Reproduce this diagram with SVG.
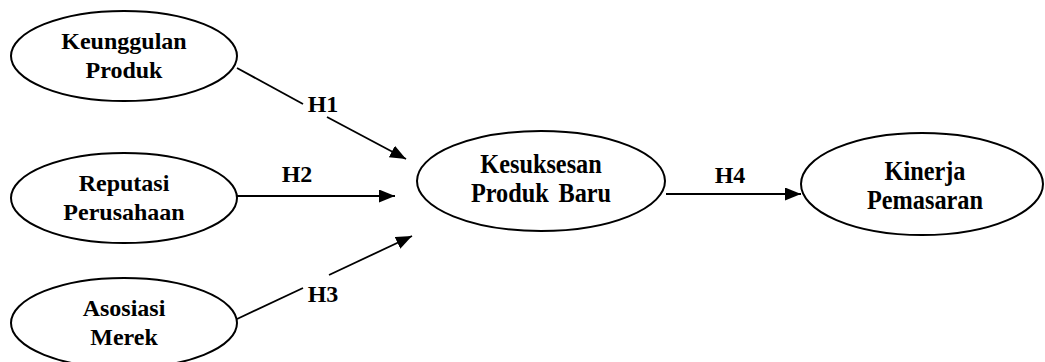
<svg xmlns="http://www.w3.org/2000/svg" width="1045" height="362" viewBox="0 0 1045 362">
  <style>
    .node ellipse { fill: #ffffff; stroke: #000000; stroke-width: 2; }
    text { font-family: "Liberation Serif", "Times New Roman", Tinos, "DejaVu Serif", serif; font-weight: bold; font-size: 24px; fill: #000000; text-anchor: middle; }
    .tall { font-size: 27px; }
    .edge { stroke: #000000; stroke-width: 1.8; fill: none; }
  </style>
  <defs>
    <marker id="arrow" markerUnits="userSpaceOnUse" markerWidth="18" markerHeight="15" refX="16" refY="6.5" orient="auto">
      <path d="M0,0 L16,6.5 L0,13 z" fill="#000000"/>
    </marker>
  </defs>
  <rect width="1045" height="362" fill="#ffffff"/>

  <g id="keunggulan-produk" class="node">
    <ellipse cx="124" cy="56" rx="113" ry="45"/>
    <text x="124" y="49">Keunggulan</text>
    <text x="124" y="78">Produk</text>
  </g>

  <g id="reputasi-perusahaan" class="node">
    <ellipse cx="124" cy="198" rx="113" ry="45"/>
    <text x="124" y="191">Reputasi</text>
    <text x="124" y="220">Perusahaan</text>
  </g>

  <g id="asosiasi-merek" class="node">
    <ellipse cx="124" cy="323" rx="113" ry="45"/>
    <text x="124" y="316">Asosiasi</text>
    <text x="124" y="345">Merek</text>
  </g>

  <g id="kesuksesan-produk-baru" class="node">
    <ellipse cx="541" cy="181" rx="124" ry="50"/>
    <text class="tall" transform="translate(541,173) scale(0.9,1)">Kesuksesan</text>
    <text class="tall" transform="translate(541,202) scale(0.9,1)" word-spacing="4">Produk Baru</text>
  </g>

  <g id="kinerja-pemasaran" class="node">
    <ellipse cx="922" cy="184" rx="121" ry="51"/>
    <text class="tall" transform="translate(925,180) scale(0.9,1)">Kinerja</text>
    <text class="tall" transform="translate(925,209) scale(0.9,1)">Pemasaran</text>
  </g>

  <g id="connectors">
    <!-- H1 -->
    <line class="edge" x1="237" y1="68" x2="303" y2="104"/>
    <line class="edge" x1="327" y1="117" x2="406" y2="159" marker-end="url(#arrow)"/>
    <text x="323" y="112">H1</text>
    <!-- H2 -->
    <line class="edge" x1="237" y1="196" x2="395" y2="196" marker-end="url(#arrow)"/>
    <text x="297" y="182">H2</text>
    <!-- H3 -->
    <line class="edge" x1="237" y1="319" x2="303" y2="288"/>
    <line class="edge" x1="329" y1="275" x2="412" y2="236" marker-end="url(#arrow)"/>
    <text x="323" y="302">H3</text>
    <!-- H4 -->
    <line class="edge" x1="666" y1="194" x2="801" y2="194" marker-end="url(#arrow)"/>
    <text x="730" y="183">H4</text>
  </g>
</svg>
